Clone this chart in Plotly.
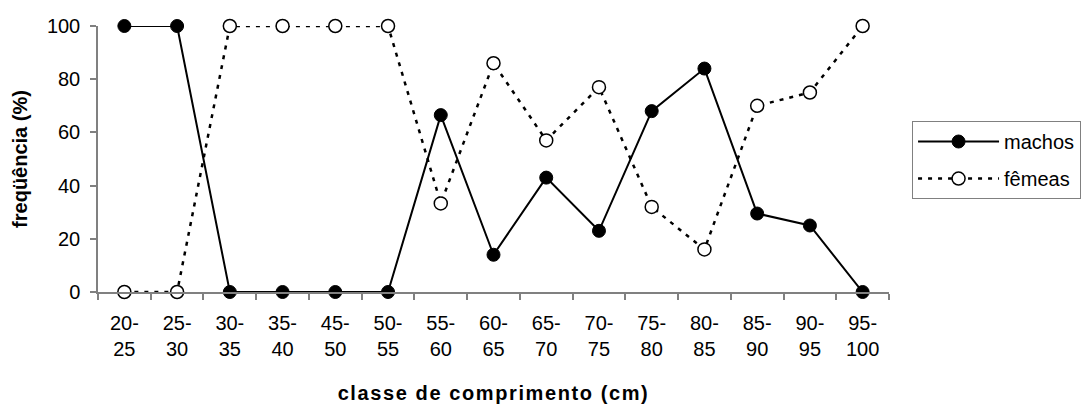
import plotly.graph_objects as go

categorias = ["20-<br>25", "25-<br>30", "30-<br>35", "35-<br>40", "45-<br>50", "50-<br>55",
              "55-<br>60", "60-<br>65", "65-<br>70", "70-<br>75", "75-<br>80", "80-<br>85",
              "85-<br>90", "90-<br>95", "95-<br>100"]
machos = [100, 100, 0, 0, 0, 0, 66.5, 14, 43, 23, 68, 84, 29.5, 25, 0]
femeas = [0, 0, 100, 100, 100, 100, 33.3, 86, 57, 77, 32, 16, 70, 75, 100]
y_ticks = [0, 20, 40, 60, 80, 100]

font = "Liberation Sans, Arial, sans-serif"
fs = 20

fig = go.Figure()
fig.add_trace(go.Scatter(
    x=categorias, y=machos, name="machos", mode="lines+markers", legendgroup="m",
    line=dict(color="black", width=2),
    marker=dict(symbol="circle", size=13, color="black", line=dict(color="black", width=1)),
    cliponaxis=False,
))
fig.add_trace(go.Scatter(
    x=categorias, y=femeas, name="fêmeas", mode="lines+markers", legendgroup="f",
    line=dict(color="black", width=2.5, dash="4px,6px"),
    marker=dict(symbol="circle", size=13, color="white", line=dict(color="black", width=1.5)),
    cliponaxis=False,
))

fig.update_layout(
    width=1085, height=408, autosize=False,
    margin=dict(l=98, r=196, t=26, b=116),
    paper_bgcolor="white", plot_bgcolor="white",
    font=dict(family=font, size=fs, color="black"),
    showlegend=True,
    legend=dict(
        xref="container", yref="container",
        x=0.8406, xanchor="left", y=0.7034, yanchor="top",
        bordercolor="#808080", borderwidth=1, bgcolor="white",
        font=dict(family=font, size=fs, color="black"),
        itemwidth=81, tracegroupgap=8,
    ),
    xaxis=dict(
        type="category", range=[-0.5, 14.5], automargin=False,
        tickson="boundaries", ticks="outside", ticklen=6, tickcolor="#808080", tickwidth=1.5,
        showline=True, linecolor="#808080", linewidth=1.5,
        showgrid=False, zeroline=False, ticklabelstandoff=12,
        tickfont=dict(family=font, size=fs),
        title=dict(text="<b>classe de comprimento (cm)</b>",
                   font=dict(family=font, size=fs), standoff=27),
    ),
    yaxis=dict(
        range=[0, 100], tickvals=y_ticks, ticks="outside", ticklen=6, tickcolor="#808080", tickwidth=1.5,
        showline=True, linecolor="#808080", linewidth=1.5, automargin=False,
        showgrid=False, zeroline=False, ticklabelstandoff=6,
        tickfont=dict(family=font, size=fs),
        title=dict(text="<b>freqüência (%)</b>", font=dict(family=font, size=fs), standoff=14),
    ),
)

post = (
    "document.documentElement.style.margin='0px';"
    "document.documentElement.style.overflow='hidden';"
    "document.body.style.margin='0px';"
    "document.body.style.overflow='hidden';"
    "document.querySelectorAll('.g-xtitle text').forEach(function(t){t.style.letterSpacing='1.6px';});"
)
fig.write_html("out.html", post_script=post,
               config={"responsive": False, "displayModeBar": False})
